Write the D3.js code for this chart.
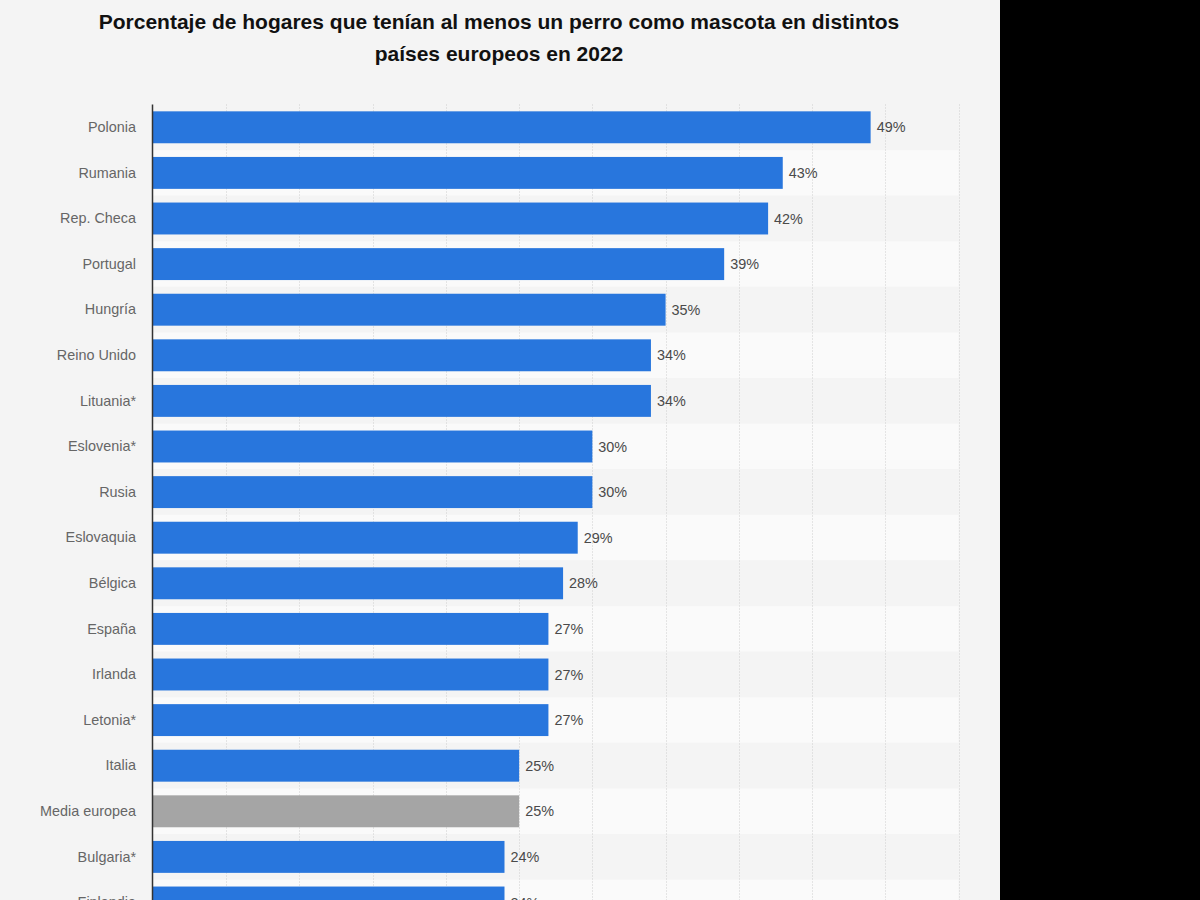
<!DOCTYPE html>
<html>
<head>
<meta charset="utf-8">
<script src="https://cdn.jsdelivr.net/npm/d3@7"></script>
<style>
  html, body { margin: 0; padding: 0; background: #000; }
  svg { display: block; }
</style>
</head>
<body>
<svg id="chart" width="1200" height="900"></svg>
<script>
const titleLines = ["Porcentaje de hogares que tenían al menos un perro como mascota en distintos", "países europeos en 2022"];
const categories = ["Polonia", "Rumania", "Rep. Checa", "Portugal", "Hungría", "Reino Unido", "Lituania*", "Eslovenia*", "Rusia", "Eslovaquia", "Bélgica", "España", "Irlanda", "Letonia*", "Italia", "Media europea", "Bulgaria*", "Finlandia"];
const values = [49, 43, 42, 39, 35, 34, 34, 30, 30, 29, 28, 27, 27, 27, 25, 25, 24, 24];
const highlight = ["Media europea"];
const xTicks = [0, 5, 10, 15, 20, 25, 30, 35, 40, 45, 50, 55];

const svg = d3.select("#chart");
svg.append("rect").attr("x", 0).attr("y", 0).attr("width", 1000).attr("height", 900).attr("fill", "#f4f4f4");

const plotLeft = 153, plotRight = 958.5, plotTop = 104.5;
const rowStep = 45.6;
const x = d3.scaleLinear().domain([0, 55]).range([plotLeft, plotRight]);
const y = d3.scaleBand().domain(categories).range([plotTop, plotTop + rowStep * categories.length]).paddingInner(0.3).paddingOuter(0.15);

// title
svg.append("g").selectAll("text").data(titleLines).join("text")
  .attr("x", 499).attr("y", (d, i) => 29 + i * 32)
  .attr("text-anchor", "middle")
  .attr("font-family", "Liberation Sans, Arial, sans-serif")
  .attr("font-weight", "bold").attr("font-size", 21).attr("fill", "#111")
  .text(d => d);

// alternating bands
svg.append("g").selectAll("rect").data(categories).join("rect")
  .attr("x", plotLeft).attr("width", plotRight - plotLeft)
  .attr("y", d => y(d) - (y.step() - y.bandwidth()) / 2)
  .attr("height", y.step())
  .attr("fill", (d, i) => i % 2 === 0 ? "#f4f4f4" : "#fafafa");

// gridlines
svg.append("g").selectAll("line").data(xTicks.slice(1)).join("line")
  .attr("x1", d => Math.round(x(d)) + 0.5).attr("x2", d => Math.round(x(d)) + 0.5)
  .attr("y1", plotTop).attr("y2", 900)
  .attr("stroke", "#cfcfcf").attr("stroke-width", 1).attr("stroke-dasharray", "1,2");

// bars
svg.append("g").selectAll("rect").data(categories).join("rect")
  .attr("x", x(0)).attr("y", d => y(d))
  .attr("width", (d, i) => x(values[i]) - x(0))
  .attr("height", y.bandwidth())
  .attr("fill", d => highlight.includes(d) ? "#a5a5a5" : "#2876dd");

// value labels
svg.append("g").selectAll("text").data(categories).join("text")
  .attr("x", (d, i) => x(values[i]) + 6)
  .attr("y", d => y(d) + y.bandwidth() / 2)
  .attr("dy", "0.35em")
  .attr("font-family", "Liberation Sans, Arial, sans-serif")
  .attr("font-size", 14.4).attr("fill", "#4a4a4a")
  .text((d, i) => values[i] + "%");

// y axis
const yAxis = d3.axisLeft(y).tickSize(0).tickPadding(17);
const gy = svg.append("g").attr("transform", `translate(${plotLeft},0)`).call(yAxis);
gy.select(".domain").remove();
gy.selectAll("text").attr("font-family", "Liberation Sans, Arial, sans-serif").attr("font-size", 14.4).attr("fill", "#666");
svg.append("line").attr("x1", plotLeft - 0.5).attr("x2", plotLeft - 0.5).attr("y1", plotTop).attr("y2", 900)
  .attr("stroke", "#333").attr("stroke-width", 1.5);

// right black panel
svg.append("rect").attr("x", 1000).attr("y", 0).attr("width", 200).attr("height", 900).attr("fill", "#000");
</script>
</body>
</html>
